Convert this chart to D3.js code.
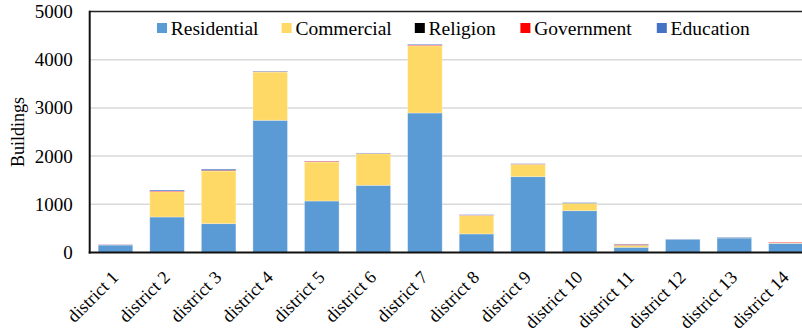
<!DOCTYPE html>
<html>
<head>
<meta charset="utf-8">
<script src="https://cdn.jsdelivr.net/npm/d3@7"></script>
<style>
  html, body { margin: 0; padding: 0; background: #fff; }
  svg { display: block; }
  svg text { font-family: "Liberation Serif", Tinos, "Times New Roman", "DejaVu Serif", serif !important; fill: #000; }
</style>
</head>
<body>
<svg id="chart" width="802" height="336"></svg>
<script>
// Buildings per district, split by use
const districts = ["district 1", "district 2", "district 3", "district 4", "district 5", "district 6", "district 7",
                   "district 8", "district 9", "district 10", "district 11", "district 12", "district 13", "district 14"];
const residential = [155, 736, 598, 2743, 1068, 1394, 2894, 385, 1573, 867, 108, 274, 300, 190];
const commercial  = [0,   525, 1093, 1002, 810, 656, 1396, 385, 257, 154, 41, 0, 0, 8];
const religion    = [0,   5,   15,  5,    0,   0,   5,    0,   3,   5,   5,  0, 5, 0];
const government  = [5,   10,  5,   5,    15,  5,   10,   5,   4,   0,   15, 0, 0, 12];
const education   = [5,   20,  20,  10,   5,   10,  15,   10,  6,   10,  8,  5, 10, 0];

const seriesNames  = ["Residential", "Commercial", "Religion", "Government", "Education"];
const seriesColors = ["#5B9BD5", "#FFD966", "#000000", "#FF0000", "#4472C4"];
const yTicks = [0, 1000, 2000, 3000, 4000, 5000];

const rows = districts.map((d, i) => ({
  district: d,
  Residential: residential[i],
  Commercial: commercial[i],
  Religion: religion[i],
  Government: government[i],
  Education: education[i]
}));

const svg = d3.select("#chart");
const plotLeft = 89.7, plotRight = 811.7, plotTop = 11.5, plotBottom = 252.5;

const x = d3.scaleBand().domain(districts).range([plotLeft, plotRight]).paddingInner(0.33).paddingOuter(0.165);
const y = d3.scaleLinear().domain([0, 5000]).range([plotBottom, plotTop]);
const color = d3.scaleOrdinal().domain(seriesNames).range(seriesColors);

// gridlines
svg.append("g").selectAll("line").data(yTicks.filter(t => t > 0 && t < 5000)).join("line")
  .attr("x1", plotLeft).attr("x2", 802)
  .attr("y1", d => y(d)).attr("y2", d => y(d))
  .attr("stroke", "#d9d9d9").attr("stroke-width", 1.5);

// stacked bars
const stacked = d3.stack().keys(seriesNames)(rows);
svg.append("g").selectAll("g").data(stacked).join("g")
  .attr("fill", d => color(d.key))
  .selectAll("rect").data(d => d).join("rect")
  .attr("x", d => x(d.data.district))
  .attr("width", x.bandwidth())
  .attr("y", d => y(d[1]))
  .attr("height", d => Math.max(0, y(d[0]) - y(d[1])))
  .attr("stroke", "#ffffff").attr("stroke-opacity", 0.35).attr("stroke-width", 0.8);

// frame: top border, left axis, bottom axis
svg.append("line").attr("x1", plotLeft).attr("x2", 802).attr("y1", plotTop).attr("y2", plotTop)
  .attr("stroke", "#222").attr("stroke-width", 1.6);
svg.append("line").attr("x1", plotLeft).attr("x2", plotLeft).attr("y1", plotTop - 0.8).attr("y2", plotBottom + 1)
  .attr("stroke", "#111").attr("stroke-width", 2);
svg.append("line").attr("x1", plotLeft - 1).attr("x2", 802).attr("y1", plotBottom).attr("y2", plotBottom)
  .attr("stroke", "#111").attr("stroke-width", 2);

// y axis tick labels
const yAxis = d3.axisLeft(y).tickValues(yTicks).tickFormat(d3.format("d")).tickSize(0).tickPadding(17);
const gy = svg.append("g").attr("transform", `translate(${plotLeft},0)`).call(yAxis);
gy.select(".domain").remove();
gy.selectAll("text").style("font-size", "19px").attr("fill", "#000");

// x axis labels, rotated
const xAxis = d3.axisBottom(x).tickSize(0).tickPadding(0);
const gx = svg.append("g").attr("transform", `translate(0,${plotBottom})`).call(xAxis);
gx.select(".domain").remove();
gx.selectAll("text")
  .style("font-size", "18px")
  .attr("fill", "#000")
  .attr("text-anchor", "end")
  .attr("dy", "0")
  .attr("transform", "translate(4,26) rotate(-45)");

// y axis title
svg.append("text")
  .attr("transform", `translate(24,${(plotTop + plotBottom) / 2}) rotate(-90)`)
  .attr("text-anchor", "middle")
  .style("font-size", "18px")
  .text("Buildings");

// legend
const legendX = [157, 281.6, 414.8, 520.4, 656.8];
const legend = svg.append("g").selectAll("g").data(seriesNames).join("g")
  .attr("transform", (d, i) => `translate(${legendX[i]},28)`);
legend.append("rect").attr("x", 0).attr("y", -5).attr("width", 10).attr("height", 10)
  .attr("fill", d => color(d));
legend.append("text").attr("x", 13.8).attr("y", 0).attr("dy", "0.34em")
  .style("font-size", "19.5px").text(d => d);
</script>
</body>
</html>
